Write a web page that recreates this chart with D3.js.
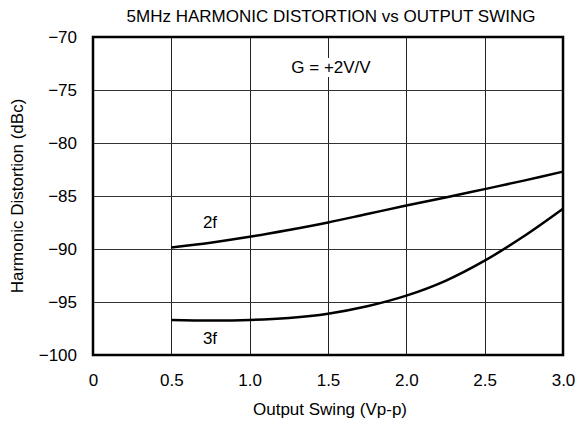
<!DOCTYPE html>
<html><head><meta charset="utf-8">
<script src="https://cdn.jsdelivr.net/npm/d3@7"></script>
<style>body{margin:0;background:#fff}svg text{font-family:"Liberation Sans",Arial,sans-serif;fill:#000}</style>
</head><body><svg id="c" width="578" height="426"></svg>
<script>
const xTicks = [0, 0.5, 1.0, 1.5, 2.0, 2.5, 3.0];
const xTickLabels = ["0", "0.5", "1.0", "1.5", "2.0", "2.5", "3.0"];
const yTicks = [-100, -95, -90, -85, -80, -75, -70];
const yTickLabels = ["\u2212100", "\u221295", "\u221290", "\u221285", "\u221280", "\u221275", "\u221270"];
const swing = [0.5, 0.75, 1.0, 1.25, 1.5, 1.75, 2.0, 2.25, 2.5, 2.75, 3.0];
const hd2 = [-89.85, -89.4, -88.85, -88.2, -87.5, -86.7, -85.9, -85.15, -84.35, -83.55, -82.7];
const hd3 = [-96.7, -96.75, -96.7, -96.5, -96.1, -95.4, -94.4, -93.0, -91.1, -88.8, -86.2];
const seriesLabels = ["2f", "3f"];

const FS = 17;
const svg = d3.select("#c");
const L = 93, R = 563, T = 37, B = 355;
const x = d3.scaleLinear().domain([0, 3]).range([L, R]);
const y = d3.scaleLinear().domain([-100, -70]).range([B, T]);

// grid
const g = svg.append("g");
g.selectAll(".vx").data(xTicks.slice(1, -1)).join("line")
  .attr("x1", d => Math.round(x(d)) + 0.5).attr("x2", d => Math.round(x(d)) + 0.5)
  .attr("y1", T).attr("y2", B).attr("stroke", "#222").attr("stroke-width", 1);
g.selectAll(".hy").data(yTicks.slice(1, -1)).join("line")
  .attr("y1", d => Math.round(y(d)) + 0.5).attr("y2", d => Math.round(y(d)) + 0.5)
  .attr("x1", L).attr("x2", R).attr("stroke", "#333").attr("stroke-width", 1);

// axes labels via d3 axes (no lines)
const xAxis = d3.axisBottom(x).tickValues(xTicks).tickFormat((d, i) => xTickLabels[i]).tickSize(0).tickPadding(19);
const xa = svg.append("g").attr("transform", `translate(0,${B})`).call(xAxis);
xa.select(".domain").remove();
xa.selectAll("text").attr("font-size", FS).attr("font-family", "Liberation Sans, Arial, sans-serif").attr("fill", "#000");

const yAxis = d3.axisLeft(y).tickValues(yTicks).tickFormat((d, i) => yTickLabels[i]).tickSize(0).tickPadding(16);
const ya = svg.append("g").attr("transform", `translate(${L},0)`).call(yAxis);
ya.select(".domain").remove();
ya.selectAll("text").attr("font-size", FS).attr("font-family", "Liberation Sans, Arial, sans-serif").attr("fill", "#000");

// curves
const line = d3.line().x((d, i) => x(swing[i])).y(d => y(d)).curve(d3.curveCatmullRom.alpha(0.5));
[hd2, hd3].forEach(s => {
  svg.append("path").attr("d", line(s)).attr("fill", "none").attr("stroke", "#000").attr("stroke-width", 2.5);
});

// annotation with white background
const ann = svg.append("g");
const at = ann.append("text").attr("x", 331).attr("y", 73).attr("text-anchor", "middle").attr("font-size", FS).text("G = +2V/V");
const bb = at.node().getBBox();
ann.insert("rect", "text").attr("x", bb.x - 3).attr("y", bb.y).attr("width", bb.width + 6).attr("height", bb.height).attr("fill", "#fff");

svg.append("text").attr("x", 210).attr("y", 228).attr("text-anchor", "middle").attr("font-size", FS).text(seriesLabels[0]);
svg.append("text").attr("x", 210).attr("y", 344).attr("text-anchor", "middle").attr("font-size", FS).text(seriesLabels[1]);

// frame
svg.append("rect").attr("x", L).attr("y", T).attr("width", R - L).attr("height", B - T)
  .attr("fill", "none").attr("stroke", "#000").attr("stroke-width", 2.5);

// titles
svg.append("text").attr("x", 331).attr("y", 22).attr("text-anchor", "middle").attr("font-size", FS).text("5MHz HARMONIC DISTORTION vs OUTPUT SWING");
svg.append("text").attr("x", 330).attr("y", 415).attr("text-anchor", "middle").attr("font-size", FS).text("Output Swing (Vp-p)");
svg.append("text").attr("transform", `translate(23,${(T + B) / 2}) rotate(-90)`).attr("text-anchor", "middle").attr("font-size", FS).text("Harmonic Distortion (dBc)");
</script></body></html>
